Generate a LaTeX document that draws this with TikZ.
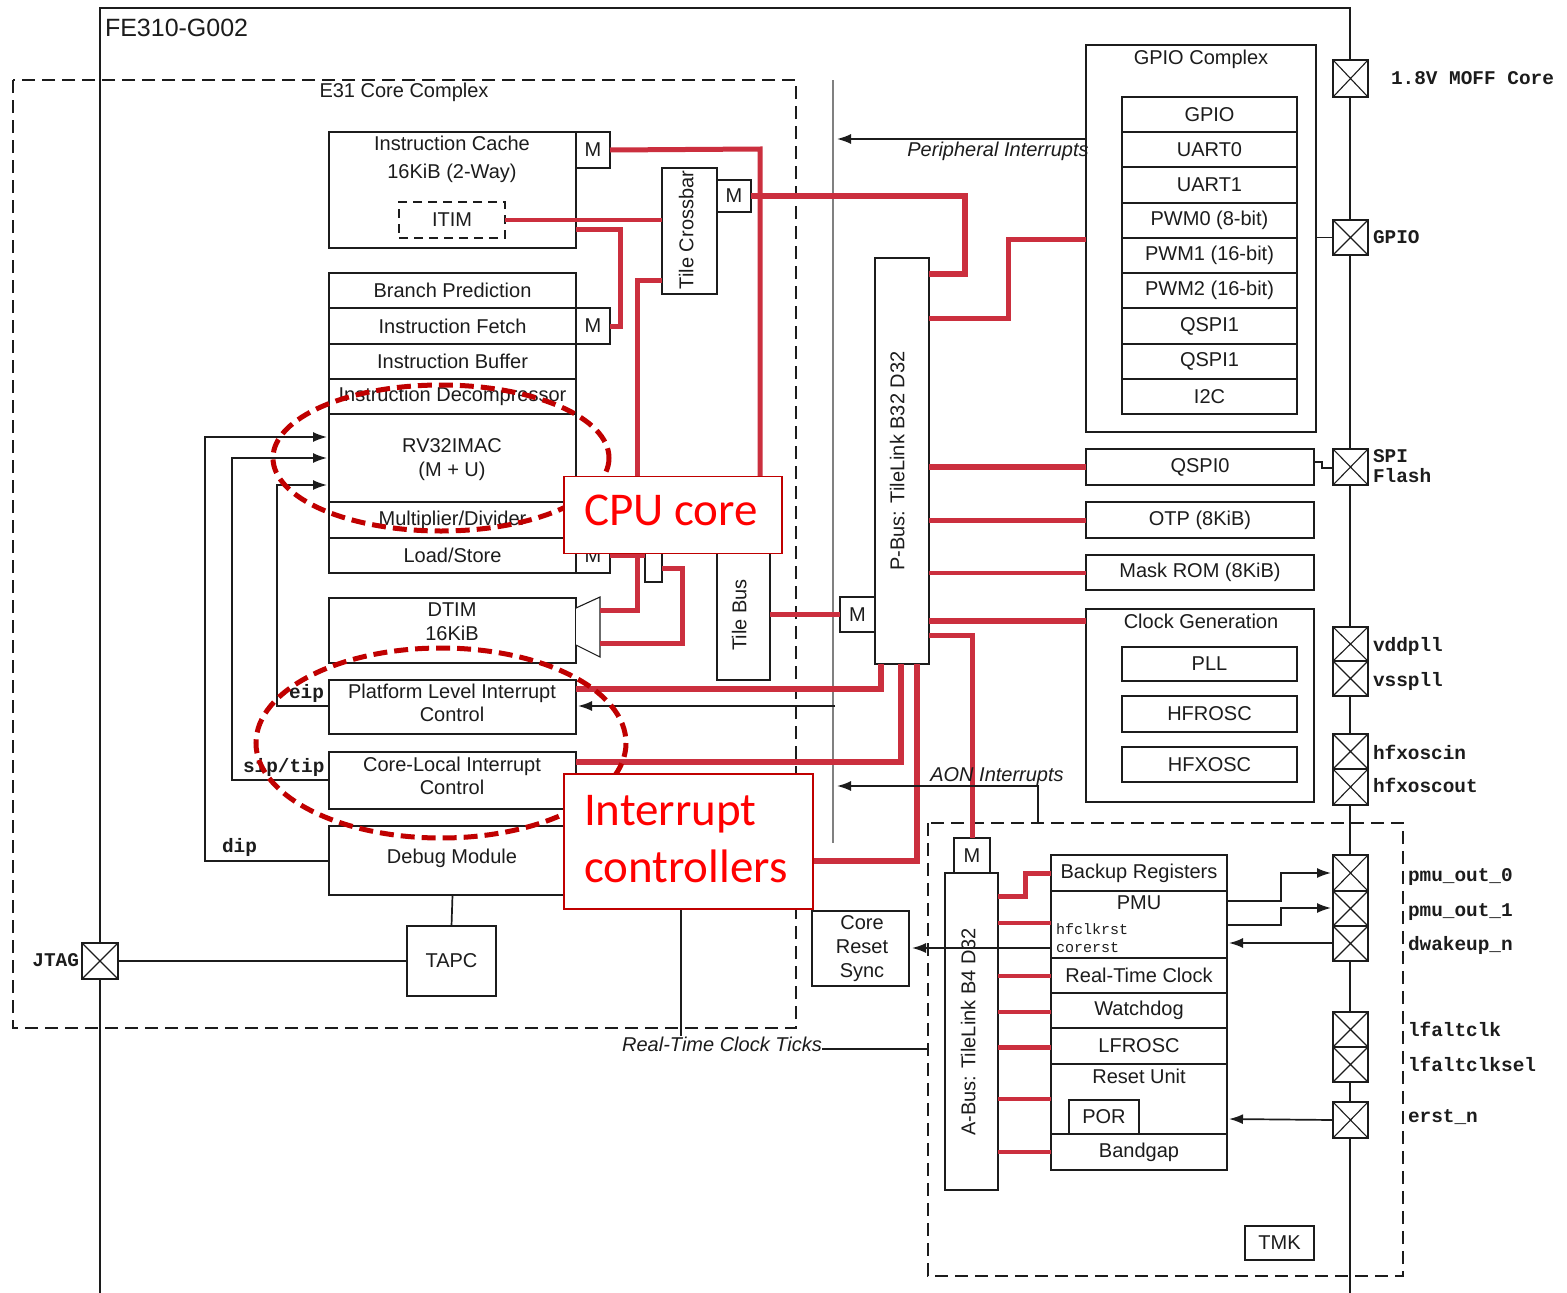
\documentclass[tikz,border=0pt]{standalone}
\usepackage{fontspec}
\setmainfont{Liberation Sans}
\setmonofont{Liberation Mono}
\newfontfamily\calloutfont{Carlito}
\usetikzlibrary{arrows.meta,calc}
\definecolor{busred}{HTML}{CB2F3E}
\definecolor{ovalred}{HTML}{C00000}
\definecolor{ink}{HTML}{1C1C1C}
\tikzset{
  bx/.style={draw=ink,line width=1.7pt,fill=white,inner sep=0pt,outer sep=0pt,align=center,text=ink,font=\fontsize{20}{24}\selectfont},
  tx/.style={inner sep=0pt,outer sep=0pt,text=ink,font=\fontsize{20}{24}\selectfont,text height=14.5pt,text depth=4pt},
  itx/.style={tx,font=\fontsize{20}{24}\selectfont\itshape},
  mono/.style={inner sep=0pt,outer sep=0pt,text=ink,anchor=west,font=\fontsize{19.4}{23}\selectfont\ttfamily\bfseries,text height=13pt,text depth=3pt},
  smallmono/.style={inner sep=0pt,outer sep=0pt,text=ink,anchor=west,font=\fontsize{15}{18}\selectfont\ttfamily,text height=11pt,text depth=2pt},
  bus/.style={draw=busred,line width=#1,line join=miter},
  bus/.default=5pt,
  wire/.style={draw=ink,line width=1.7pt},
  arr/.style={wire,-{Latex[length=14pt,width=10pt]}},
  dashbox/.style={draw=ink,line width=1.7pt,dash pattern=on 13pt off 7pt},
  oval/.style={draw=ovalred,line width=5pt,dash pattern=on 14pt off 7pt},
  callout/.style={draw=ovalred,line width=1.8pt,fill=white,inner sep=0pt,outer sep=0pt},
  callouttext/.style={inner sep=0pt,outer sep=0pt,text=red,anchor=west,font=\fontsize{47}{56}\selectfont\calloutfont,text height=30pt,text depth=10pt},
  padbox/.style={draw=ink,line width=2.2pt,fill=white,inner sep=0pt,outer sep=0pt,
    path picture={\draw[ink,line width=1.1pt]
      (path picture bounding box.north west)--(path picture bounding box.south east)
      (path picture bounding box.north east)--(path picture bounding box.south west);}},
}
\newcommand\bx[6]{\node[bx,minimum width={(#4-#2)*1pt},minimum height={(#5-#3)*1pt}] (#1) at ({(#2+#4)/2},{(#3+#5)/2}) {#6};}
\newcommand\pd[5]{\node[padbox,minimum width={(#4-#2)*1pt},minimum height={(#5-#3)*1pt}] (#1) at ({(#2+#4)/2},{(#3+#5)/2}) {};}
\begin{document}
\begin{tikzpicture}[x=1pt,y=-1pt]
\useasboundingbox (0,0) rectangle (1567,1293);
\fill[white] (0,0) rectangle (1567,1293);
% die outline
\coordinate (dieBL) at (100,1293);
\coordinate (dieTL) at (100,8);
\coordinate (dieTR) at (1350,8);
\coordinate (dieBR) at (1350,1293);
\draw[wire] (dieBL)--(dieTL)--(dieTR)--(dieBR);
\node[tx,anchor=west,font=\fontsize{25}{30}\selectfont] (dieT) at (105,31) {FE310-G002};
% dashed complexes
\draw[dashbox] (13,80) rectangle (796,1028);
\node[tx] (e31T) at (404,92) {E31 Core Complex};
\draw[dashbox] (928,823) rectangle (1403,1276);
% gray interrupt bus line
\coordinate (irqT) at (833,80);
\coordinate (irqB) at (833,843);
\draw[draw=gray,line width=1.8pt] (irqT)--(irqB);

% core column
\bx{ic}{329}{132}{576}{248}{}
\node[tx] (ic1) at (452,145) {Instruction Cache};
\node[tx] (ic2) at (452,173) {16KiB (2-Way)};
\node[draw=ink,line width=1.7pt,dash pattern=on 9pt off 6pt,minimum width=106pt,minimum height=36pt,inner sep=0pt,outer sep=0pt,text=ink,font=\fontsize{20}{24}\selectfont] (itim) at (452,220) {ITIM};
\bx{mic}{576}{132}{610}{168}{M}
\bx{xbar}{662}{168}{717}{294}{}
\node[tx,rotate=90] (xbarT) at (688,230) {Tile Crossbar};
\bx{mx}{717}{180}{751}{212}{M}
\bx{bp}{329}{273}{576}{308}{Branch Prediction}
\bx{fetch}{329}{308}{576}{344}{Instruction Fetch}
\bx{mf}{576}{308}{610}{344}{M}
\bx{ibuf}{329}{344}{576}{379}{Instruction Buffer}
\bx{idec}{329}{379}{576}{414}{Instruction Decompressor}
\bx{rv}{329}{414}{576}{502}{}
\node[tx] (rv1) at (452,447) {RV32IMAC};
\node[tx] (rv2) at (452,471) {(M + U)};
\bx{mdiv}{329}{502}{576}{538}{Multiplier/Divider}
\bx{ls}{329}{538}{576}{573}{Load/Store}
\bx{mls}{576}{538}{610}{573}{M}
\bx{sbx}{645}{540}{662}{582}{}
\bx{dtim}{329}{598}{576}{663}{}
\node[tx] (d1) at (452,611) {DTIM};
\node[tx] (d2) at (452,635) {16KiB};
\coordinate (trapA) at (600,610);
\coordinate (trapB) at (600,643);
\draw[draw=ink,line width=1.1pt,fill=white] (576,608)--(600,597)--(600,657)--(576,645);
\bx{tbus}{717}{515}{770}{680}{}
\node[tx,rotate=90] (tbusT) at (741,615) {Tile Bus};
\bx{plic}{329}{680}{576}{734}{}
\node[tx] (p1) at (452,693) {Platform Level Interrupt};
\node[tx] (p2) at (452,716) {Control};
\bx{clic}{329}{752}{576}{809}{}
\node[tx] (c1) at (452,766) {Core-Local Interrupt};
\node[tx] (c2) at (452,789) {Control};
\bx{dbg}{329}{826}{576}{895}{}
\node[tx] (dbgT) at (452,858) {Debug Module};
\bx{tapc}{407}{926}{496}{996}{TAPC}
\pd{jtag}{82}{943}{118}{979}
\node[mono,anchor=east] (jtagT) at (79,961) {JTAG};
\node[mono] (eipT) at (289,693) {eip};
\node[mono] (siptT) at (243,767) {sip/tip};
\node[mono] (dipT) at (222,847) {dip};

% P-bus and peripherals
\bx{pbus}{875}{258}{929}{664}{}
\node[tx,rotate=90] (pbusT) at (899,461) {P-Bus: TileLink B32 D32};
\bx{mt}{840}{597}{875}{632}{M}
\bx{gpioc}{1086}{45}{1316}{432}{}
\node[tx] (gpiocT) at (1201,59) {GPIO Complex};
\bx{g1}{1122}{97}{1297}{132}{GPIO}
\bx{g2}{1122}{132}{1297}{167}{UART0}
\bx{g3}{1122}{167}{1297}{203}{UART1}
\bx{g4}{1122}{203}{1297}{238}{PWM0 (8-bit)}
\bx{g5}{1122}{238}{1297}{273}{PWM1 (16-bit)}
\bx{g6}{1122}{273}{1297}{308}{PWM2 (16-bit)}
\bx{g7}{1122}{308}{1297}{344}{QSPI1}
\bx{g8}{1122}{344}{1297}{379}{QSPI1}
\bx{g9}{1122}{379}{1297}{414}{I2C}
\bx{qspi}{1086}{449}{1314}{485}{QSPI0}
\bx{otp}{1086}{502}{1314}{538}{OTP (8KiB)}
\bx{rom}{1086}{555}{1314}{590}{Mask ROM (8KiB)}
\bx{clk}{1086}{609}{1314}{802}{}
\node[tx] (clkT) at (1201,623) {Clock Generation};
\bx{pll}{1122}{647}{1297}{681}{PLL}
\bx{hfr}{1122}{696}{1297}{732}{HFROSC}
\bx{hfx}{1122}{747}{1297}{782}{HFXOSC}
\bx{crs}{812}{911}{909}{986}{}
\node[tx] (crs1) at (862,924) {Core};
\node[tx] (crs2) at (862,948) {Reset};
\node[tx] (crs3) at (862,972) {Sync};

% A-bus and always-on
\bx{abus}{945}{873}{998}{1190}{}
\node[tx,rotate=90] (abusT) at (970,1032) {A-Bus: TileLink B4 D32};
\bx{ma}{954}{838}{990}{873}{M}
\bx{bkp}{1051}{855}{1227}{891}{Backup Registers}
\bx{pmu}{1051}{891}{1227}{958}{}
\node[tx] (pmuT) at (1139,904) {PMU};
\node[smallmono] (hfT) at (1056,930) {hfclkrst};
\node[smallmono] (crT) at (1056,948) {corerst};
\bx{rtc}{1051}{958}{1227}{993}{Real-Time Clock}
\bx{wdg}{1051}{993}{1227}{1028}{Watchdog}
\bx{lfr}{1051}{1028}{1227}{1064}{LFROSC}
\bx{rst}{1051}{1064}{1227}{1134}{}
\node[tx] (rstT) at (1139,1078) {Reset Unit};
\bx{por}{1069}{1100}{1139}{1134}{POR}
\bx{bg}{1051}{1134}{1227}{1170}{Bandgap}
\bx{tmk}{1245}{1226}{1314}{1260}{TMK}

% pads
\pd{p18}{1333}{60}{1368}{97}
\pd{pgpio}{1333}{220}{1368}{255}
\pd{pspi}{1333}{449}{1368}{485}
\pd{pvdd}{1333}{627}{1368}{661}
\pd{pvss}{1333}{661}{1368}{696}
\pd{pxin}{1333}{734}{1368}{769}
\pd{pxout}{1333}{769}{1368}{805}
\pd{pm0}{1333}{855}{1368}{891}
\pd{pm1}{1333}{891}{1368}{926}
\pd{pwk}{1333}{926}{1368}{961}
\pd{plf}{1333}{1012}{1368}{1047}
\pd{plfs}{1333}{1047}{1368}{1082}
\pd{prst}{1333}{1102}{1368}{1138}
\node[mono] (l18) at (1391,79) {1.8V MOFF Core};
\node[mono] (lgpio) at (1373,238) {GPIO};
\node[mono] (lspi1) at (1373,457) {SPI};
\node[mono] (lspi2) at (1373,477) {Flash};
\node[mono] (lvdd) at (1373,646) {vddpll};
\node[mono] (lvss) at (1373,681) {vsspll};
\node[mono] (lxin) at (1373,754) {hfxoscin};
\node[mono] (lxout) at (1373,787) {hfxoscout};
\node[mono] (lm0) at (1408,876) {pmu\_out\_0};
\node[mono] (lm1) at (1408,911) {pmu\_out\_1};
\node[mono] (lwk) at (1408,945) {dwakeup\_n};
\node[mono] (llf) at (1408,1031) {lfaltclk};
\node[mono] (llfs) at (1408,1066) {lfaltclksel};
\node[mono] (lrst) at (1408,1117) {erst\_n};

% red bus connectors
\draw[bus] (mic.east) -- (760,149) -- (760,515);
\draw[bus=3.5pt] (itim.east) -- (xbar.west |- itim.east);
\draw[bus] (ic.east |- 0,229) -- (620,229) -- (620,326) -- (mf.east);
\draw[bus=6pt] (mx.east) -- (965,196) -- (965,274) -- (pbus.east |- 0,274);
\draw[bus] (xbar.west |- 0,280) -- (637,280) -- (637,610) -- (trapA);
\draw[bus] (mls.east |- 0,555) -- (sbx.west |- 0,555);
\draw[bus] (sbx.east |- 0,568) -- (682,568) -- (682,643) -- (trapB);
\draw[bus] (tbus.east |- mt.west) -- (mt.west);
\draw[bus] (pbus.east |- 0,318) -- (1008,318) -- (1008,239) -- (gpioc.west |- 0,239);
\draw[bus=6pt] (pbus.east |- qspi.west) -- (qspi.west);
\draw[bus] (pbus.east |- otp.west) -- (otp.west);
\draw[bus=4pt] (pbus.east |- rom.west) -- (rom.west);
\draw[bus=6pt] (pbus.east |- 0,621) -- (clk.west |- 0,621);
\draw[bus] (pbus.east |- 0,635) -- (972,635) -- (ma.north -| 972,0);
\draw[bus=6pt] (881,0 |- pbus.south) -- (881,689) -- (plic.east |- 0,689);
\draw[bus=6pt] (901,0 |- pbus.south) -- (901,762) -- (clic.east |- 0,762);
\draw[bus=6pt] (917,0 |- pbus.south) -- (917,861) -- (dbg.east |- 0,861);
\draw[bus=5pt] (abus.east |- 0,896) -- (1025,896) -- (1025,873) -- (bkp.west |- 0,873);
\draw[bus=4pt] (abus.east |- 0,923) -- (pmu.west |- 0,923);
\draw[bus=4pt] (abus.east |- rtc.west) -- (rtc.west);
\draw[bus=4pt] (abus.east |- 0,1012) -- (wdg.west |- 0,1012);
\draw[bus=5pt] (abus.east |- 0,1047) -- (lfr.west |- 0,1047);
\draw[bus=4.5pt] (abus.east |- 0,1099) -- (rst.west |- 0,1099);
\draw[bus=4pt] (abus.east |- bg.west) -- (bg.west);

% black connectors
\draw[arr] (gpioc.west |- 0,139) -- (837,139);
\node[itx] (pirq) at (998,151) {Peripheral Interrupts};
\draw[arr] (dbg.west |- 0,861) -- (205,861) -- (205,437) -- (327,437);
\draw[arr] (clic.west |- 0,780) -- (232,780) -- (232,458) -- (327,458);
\draw[arr] (plic.west |- 0,706) -- (277,706) -- (277,485) -- (327,485);
\coordinate (plicIn) at (835,706);
\draw[arr] (plicIn) -- (578,706);
\draw[wire] (dbg.south) -- (tapc.north);
\draw[wire] (jtag.east) -- (tapc.west);
\draw[arr] (pmu.west |- 0,948) -- (912,948);
\coordinate (aonA) at (1038,823);
\draw[arr] (aonA) -- (1038,786) -- (837,786);
\node[itx] (aon) at (997,776) {AON Interrupts};
\coordinate (rtT) at (681,860);
\draw[wire] (rtT) -- (681,1036);
\node[itx] (rtl) at (722,1046) {Real-Time Clock Ticks};
\draw[wire] (rtl.east |- 0,1049) -- (928,1049);
\draw[wire] (gpioc.east |- pgpio.west) -- (pgpio.west);
\draw[wire] (qspi.east |- 0,462) -- (1322,462) -- (1322,468) -- (pspi.west |- 0,468);
\draw[arr] (pmu.east |- 0,901) -- (1281,901) -- (1281,873) -- (1331,873);
\draw[arr] (pmu.east |- 0,925) -- (1281,925) -- (1281,908) -- (1331,908);
\draw[arr] (pwk.west |- 0,943) -- (1229,943);
\draw[arr] (prst.west) -- (1229,1119);

% highlight ovals and callouts
\draw[oval] (441,458) ellipse [x radius=168,y radius=73];
\draw[oval] (441,743) ellipse [x radius=185,y radius=95];
\node[callout,minimum width=218pt,minimum height=77pt] (cpuBox) at (673,515) {};
\node[callouttext] (cpuT) at (584,515) {CPU core};
\node[callout,minimum width=249pt,minimum height=135pt] (intBox) at (688.5,841.5) {};
\node[callouttext] (intA) at (584,815) {Interrupt};
\node[callouttext] (intB) at (584,872) {controllers};
\end{tikzpicture}
\end{document}
